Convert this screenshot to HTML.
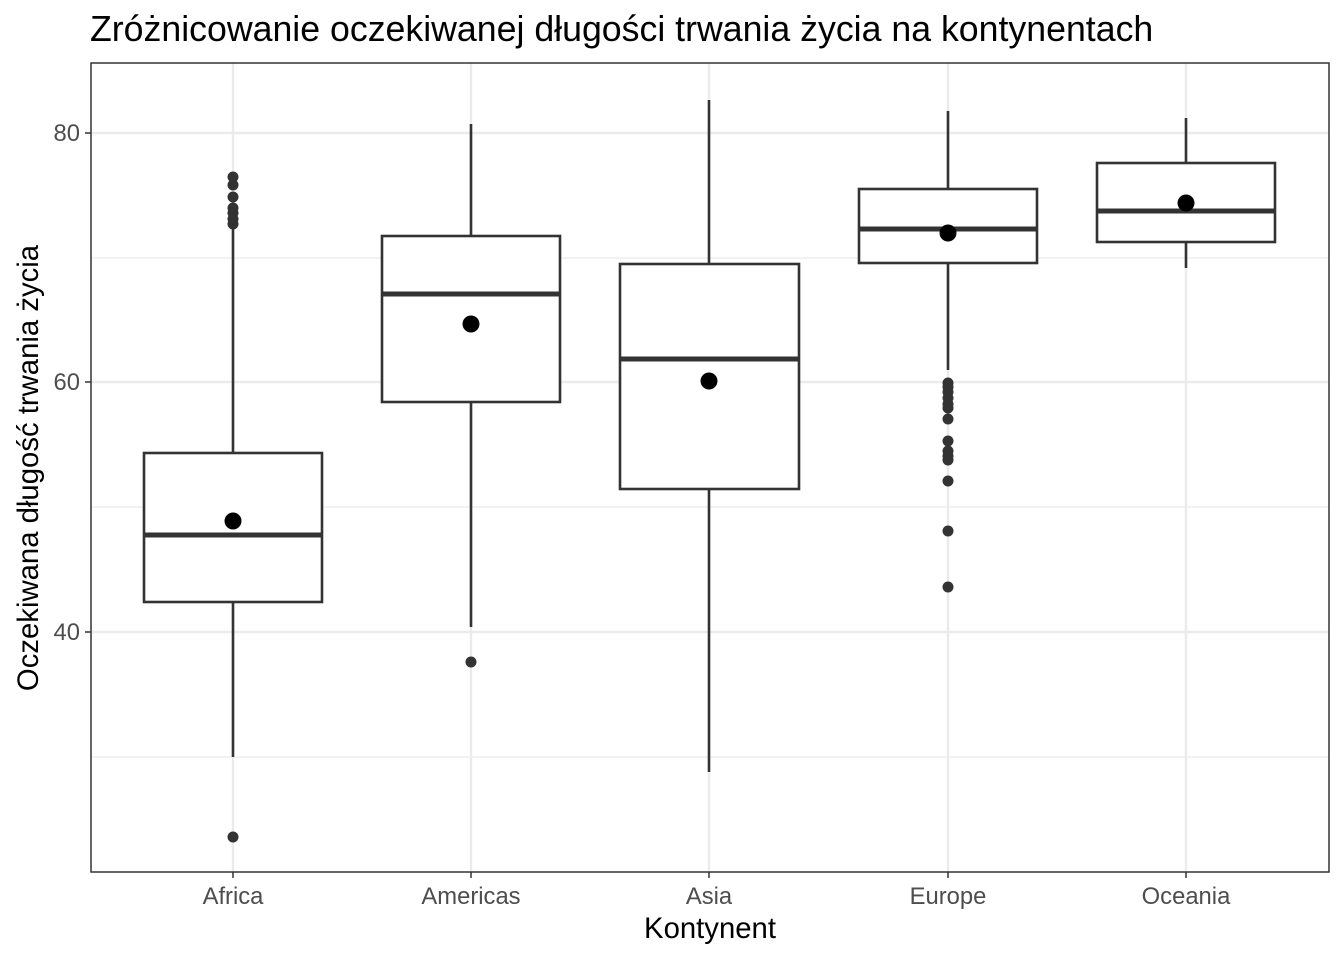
<!DOCTYPE html>
<html><head><meta charset="utf-8"><style>body{margin:0;background:#fff}svg{display:block}</style></head>
<body>
<svg width="1344" height="960" xmlns="http://www.w3.org/2000/svg" font-family="Liberation Sans, sans-serif">
<rect width="1344" height="960" fill="#fff"/>
<text x="90" y="41" font-size="35.7" fill="#000">Zróżnicowanie oczekiwanej długości trwania życia na kontynentach</text>
<g stroke="#ebebeb" stroke-width="1.2">
<line x1="91" x2="1329" y1="258" y2="258"/><line x1="91" x2="1329" y1="507" y2="507"/><line x1="91" x2="1329" y1="757" y2="757"/>
</g>
<g stroke="#ebebeb" stroke-width="2.4">
<line x1="91" x2="1329" y1="133" y2="133"/><line x1="91" x2="1329" y1="382" y2="382"/><line x1="91" x2="1329" y1="632" y2="632"/>
<line x1="233" x2="233" y1="63" y2="872"/><line x1="471" x2="471" y1="63" y2="872"/><line x1="709" x2="709" y1="63" y2="872"/><line x1="948" x2="948" y1="63" y2="872"/><line x1="1186" x2="1186" y1="63" y2="872"/>
</g>
<g stroke="#333" stroke-width="2.6" fill="#fff">
<line x1="233" x2="233" y1="226" y2="453"/><line x1="233" x2="233" y1="602" y2="757"/>
<rect x="144" y="453" width="178" height="149"/>
<line x1="471" x2="471" y1="124" y2="236"/><line x1="471" x2="471" y1="402" y2="627"/>
<rect x="382" y="236" width="178" height="166"/>
<line x1="709" x2="709" y1="100" y2="264"/><line x1="709" x2="709" y1="489" y2="772"/>
<rect x="620" y="264" width="179" height="225"/>
<line x1="948" x2="948" y1="111" y2="189"/><line x1="948" x2="948" y1="263" y2="370"/>
<rect x="859" y="189" width="178" height="74"/>
<line x1="1186" x2="1186" y1="118" y2="163"/><line x1="1186" x2="1186" y1="242" y2="268"/>
<rect x="1097" y="163" width="178" height="79"/>
</g>
<g stroke="#333" stroke-width="5">
<line x1="144" x2="322" y1="535" y2="535"/><line x1="382" x2="560" y1="294" y2="294"/><line x1="620" x2="799" y1="359" y2="359"/><line x1="859" x2="1037" y1="229" y2="229"/><line x1="1097" x2="1275" y1="211" y2="211"/>
</g>
<g fill="#333">
<circle cx="233" cy="177" r="5.5"/><circle cx="233" cy="185" r="5.5"/><circle cx="233" cy="197" r="5.5"/><circle cx="233" cy="208" r="5.5"/><circle cx="233" cy="213" r="5.5"/><circle cx="233" cy="219" r="5.5"/><circle cx="233" cy="224" r="5.5"/><circle cx="233" cy="837" r="5.5"/>
<circle cx="471" cy="662" r="5.5"/>
<circle cx="948" cy="383" r="5.5"/><circle cx="948" cy="387" r="5.5"/><circle cx="948" cy="392" r="5.5"/><circle cx="948" cy="398" r="5.5"/><circle cx="948" cy="404" r="5.5"/><circle cx="948" cy="408" r="5.5"/><circle cx="948" cy="419" r="5.5"/><circle cx="948" cy="441" r="5.5"/><circle cx="948" cy="451" r="5.5"/><circle cx="948" cy="456" r="5.5"/><circle cx="948" cy="460" r="5.5"/><circle cx="948" cy="481" r="5.5"/><circle cx="948" cy="531" r="5.5"/><circle cx="948" cy="587" r="5.5"/>
</g>
<g fill="#000">
<circle cx="233" cy="521" r="8.5"/><circle cx="471" cy="324" r="8.5"/><circle cx="709" cy="381" r="8.5"/><circle cx="948" cy="233" r="8.5"/><circle cx="1186" cy="203" r="8.5"/>
</g>
<rect x="91" y="63" width="1238" height="809" fill="none" stroke="#333" stroke-width="1.5"/>
<g stroke="#333" stroke-width="1.5">
<line x1="85" x2="91" y1="133" y2="133"/><line x1="85" x2="91" y1="382" y2="382"/><line x1="85" x2="91" y1="632" y2="632"/>
<line x1="233" x2="233" y1="872" y2="878"/><line x1="471" x2="471" y1="872" y2="878"/><line x1="709" x2="709" y1="872" y2="878"/><line x1="948" x2="948" y1="872" y2="878"/><line x1="1186" x2="1186" y1="872" y2="878"/>
</g>
<g fill="#4d4d4d" font-size="23.8" text-anchor="end">
<text x="80" y="141">80</text><text x="80" y="390">60</text><text x="80" y="640">40</text>
</g>
<g fill="#4d4d4d" font-size="23.8" text-anchor="middle">
<text x="233" y="904">Africa</text><text x="471" y="904">Americas</text><text x="709" y="904">Asia</text><text x="948" y="904">Europe</text><text x="1186" y="904">Oceania</text>
</g>
<text x="710" y="938" font-size="29.3" text-anchor="middle" fill="#000">Kontynent</text>
<text transform="translate(38,468) rotate(-90)" font-size="29.3" text-anchor="middle" fill="#000">Oczekiwana długość trwania życia</text>
</svg>
</body></html>
